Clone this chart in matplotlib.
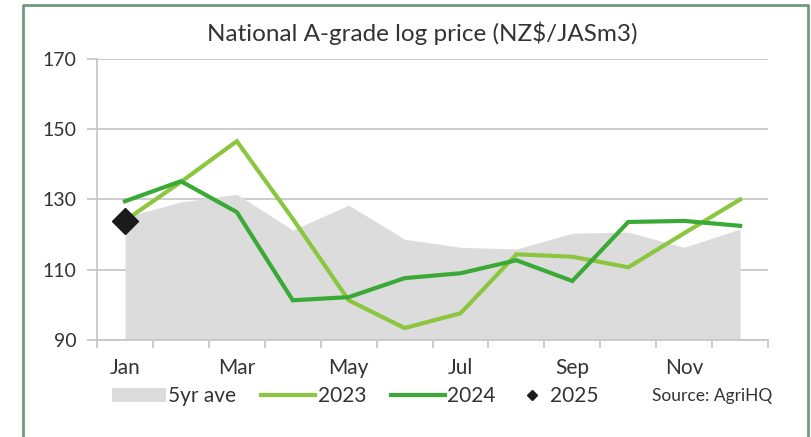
import matplotlib
matplotlib.use('Agg')
import matplotlib.pyplot as plt
from matplotlib.lines import Line2D
from matplotlib.patches import Patch

plt.rcParams['font.family'] = ['Lato', 'DejaVu Sans']

# Data
months = ['Jan', 'Feb', 'Mar', 'Apr', 'May', 'Jun', 'Jul', 'Aug', 'Sep', 'Oct', 'Nov', 'Dec']
ave_5yr = [125.0, 129.3, 131.5, 121.3, 128.4, 118.7, 116.4, 115.9, 120.4, 120.7, 116.4, 121.6]
y2023 = [124.0, 135.0, 146.6, 124.5, 101.3, 93.4, 97.6, 114.4, 113.7, 110.7, 120.4, 130.0]
y2024 = [129.5, 135.2, 126.4, 101.3, 102.2, 107.6, 109.0, 112.7, 106.8, 123.6, 123.9, 122.5]
y2025 = [124.0]
yticks = [90, 110, 130, 150, 170]

light_green = '#8cc63f'
dark_green = '#3aa935'
area_grey = '#dcdcdc'
grid_grey = '#c4c4c4'
text_col = '#333333'

x = list(range(len(months)))

fig = plt.figure(figsize=(8.12, 4.37), dpi=100)
ax = fig.add_axes([0.1195, 0.222, 0.8264, 0.643])

ax.fill_between(x, ave_5yr, 90, color=area_grey, linewidth=0, zorder=1)
ax.plot(x, y2023, color=light_green, lw=3, zorder=3, solid_joinstyle='miter')
ax.plot(x, y2024, color=dark_green, lw=3, zorder=3, solid_joinstyle='miter')
ax.plot(x[:len(y2025)], y2025, marker='D', markersize=13, color='#1a1a1a',
        linestyle='none', zorder=4)

ax.set_xlim(-0.5, len(months) - 0.5)
ax.set_ylim(90, 170)
ax.set_yticks(yticks)
ax.yaxis.grid(True, color=grid_grey, lw=1.2)
ax.set_axisbelow(True)

ax.set_xticks(x[::2])
ax.set_xticklabels(months[::2])
ax.set_xticks([i - 0.5 for i in range(len(months) + 1)], minor=True)
ax.tick_params(axis='x', which='major', length=0, pad=13, labelsize=15, labelcolor=text_col)
ax.tick_params(axis='x', which='minor', length=6, color=grid_grey, width=1.2)
ax.tick_params(axis='y', length=7, color=grid_grey, width=1.2, labelsize=14,
               labelcolor=text_col, pad=8)

for side in ['top', 'right']:
    ax.spines[side].set_visible(False)
for side in ['left', 'bottom']:
    ax.spines[side].set_color(grid_grey)
    ax.spines[side].set_linewidth(1.2)

fig.text(0.52, 0.923, 'National A-grade log price (NZ$/JASm3)', ha='center', va='center',
         fontsize=17.5, color=text_col)

handles = [
    Patch(facecolor=area_grey, edgecolor='none', label='5yr ave'),
    Line2D([], [], color=light_green, lw=3, label='2023'),
    Line2D([], [], color=dark_green, lw=3, label='2024'),
]
fig.legend(handles=handles, loc='center left', bbox_to_anchor=(0.138, 0.094), ncol=3,
           frameon=False, fontsize=15, handlelength=2.6, handleheight=0.65,
           handletextpad=0.1, columnspacing=1.2, labelcolor=text_col,
           borderpad=0, borderaxespad=0)
fig.legend(handles=[Line2D([], [], color='#1a1a1a', marker='D', markersize=5,
                           linestyle='none', label='2025')],
           loc='center left', bbox_to_anchor=(0.647, 0.094), frameon=False, fontsize=15,
           handlelength=0.6, handletextpad=0.6, labelcolor=text_col,
           borderpad=0, borderaxespad=0)
fig.text(0.803, 0.094, 'Source: AgriHQ', ha='left', va='center', fontsize=12.5, color=text_col)

# outer green frame (open at the bottom)
fig.add_artist(Line2D([0.028, 0.028, 0.995, 0.995], [0.0, 0.988, 0.988, 0.0],
                      transform=fig.transFigure, color='#6e9a7e', lw=2))

fig.savefig('out.png', dpi=100, facecolor='white')
